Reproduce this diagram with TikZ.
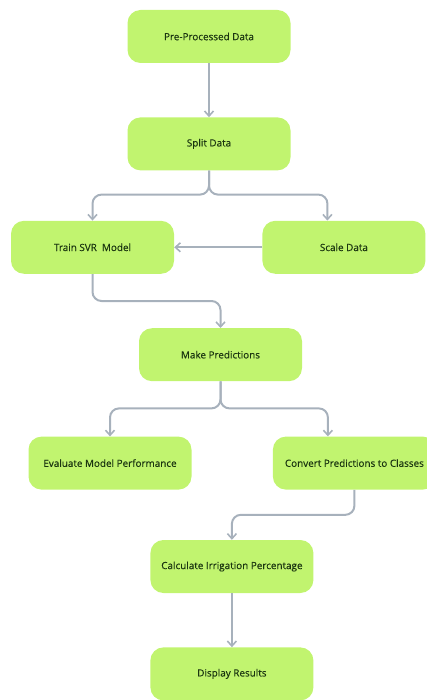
\documentclass[tikz,border=0pt]{standalone}
\usepackage{fontspec}
\setsansfont[BoldFont=Open Sans, BoldFeatures={FakeBold=0.35}]{Open Sans}
\usepackage{xcolor}
\usepackage{tikz}
\usetikzlibrary{positioning, arrows.meta, calc}

\definecolor{boxgreen}{HTML}{C1F46F}
\definecolor{boxtext}{HTML}{1B3510}
\definecolor{linkgray}{HTML}{A7B1BC}

\begin{document}
\begin{tikzpicture}[
		x=1pt, y=1pt,
		node distance=54pt and 88pt,
		every node/.style={font=\sffamily\bfseries\fontsize{9.9}{12}\selectfont, text=boxtext},
		stepbox/.style={rectangle, rounded corners=13pt, fill=boxgreen, minimum width=163pt, minimum height=53pt, inner sep=0pt},
		link/.style={-{Straight Barb[length=5pt, width=9pt, line width=1.6pt]}, line width=2pt, draw=linkgray, rounded corners=9pt}
		]
		\useasboundingbox (0,0) rectangle (426,-700);
		
		% Main chain of steps
		\node[stepbox] at (209,-36.5) (pre) {Pre-Processed Data};
		\node[stepbox, below=of pre] (split) {Split Data};
		\node[stepbox, below=50pt of split, xshift=-116.5pt] (train) {Train SVR\ \ Model};
		\node[stepbox, right=of train] (scale) {Scale Data};
		\node[stepbox, below=of train, xshift=128pt] (pred) {Make Predictions};
		
		% Outputs of the predictions
		\node[stepbox, below=55pt of pred, xshift=-110.5pt] (eval) {Evaluate Model Performance};
		\node[stepbox, right=81pt of eval] (conv) {Convert Predictions to Classes};
		\node[stepbox, below=50pt of conv, xshift=-122.5pt] (calc) {Calculate Irrigation Percentage};
		\node[stepbox, below=of calc] (disp) {Display Results};
		
		% Links
		\draw[link] (pre) -- (split);
		\draw[link] (split.south) -- ++(0,-24) -| (train.north);
		\draw[link] (split.south) -- ++(0,-24) -| ([xshift=-16.5pt]scale.north);
		\draw[link] (scale) -- (train);
		\draw[link] (train.south) -- ++(0,-27) -| (pred.north);
		\draw[link] (pred.south) -- ++(0,-27) -| (eval.north);
		\draw[link] (pred.south) -- ++(0,-27) -| ([xshift=-26.5pt]conv.north);
		\draw[link] (conv.south) -- ++(0,-25) -| (calc.north);
		\draw[link] (calc) -- (disp);
		
	\end{tikzpicture}
\end{document}
